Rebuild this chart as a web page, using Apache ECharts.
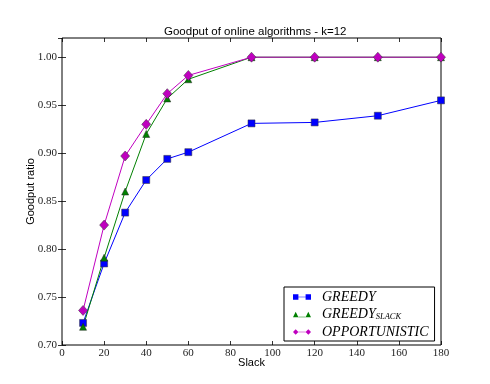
<!DOCTYPE html>
<html>
<head>
<meta charset="utf-8">
<script src="https://cdn.jsdelivr.net/npm/echarts@6/dist/echarts.min.js"></script>
<style>
  html, body { margin: 0; padding: 0; background: #fff; }
  #chart { width: 490px; height: 384px; }
</style>
</head>
<body>
<div id="chart"></div>
<script>
// slack values on the x axis
var slack = [10, 20, 30, 40, 50, 60, 90, 120, 150, 180];
// goodput ratio per algorithm
var greedy = [0.723, 0.785, 0.838, 0.872, 0.894, 0.901, 0.931, 0.932, 0.939, 0.955];
var greedySlack = [0.719, 0.791, 0.860, 0.920, 0.957, 0.977, 1.000, 1.000, 1.000, 1.000];
var opportunistic = [0.736, 0.825, 0.897, 0.930, 0.962, 0.981, 1.000, 1.000, 1.000, 1.000];

var serif = "'Liberation Serif', 'DejaVu Serif', serif";
var sans = "'Liberation Sans', 'DejaVu Sans', sans-serif";

function pairs(vals) {
    var out = [];
    for (var i = 0; i < slack.length; i++) {
        out.push([slack[i], vals[i]]);
    }
    return out;
}

// legend icons: thin line with a marker at each end, like matplotlib
var iconSquare = 'path://M0,0H6V6H0Z M6,2.7H14V3.3H6Z M14,0H20V6H14Z';
var iconTri = 'path://M0,6L3,0L6,6Z M6,5.4H14V6H6Z M14,6L17,0L20,6Z';
var iconDiamond = 'path://M3,0L6,3L3,6L0,3Z M6,2.7H14V3.3H6Z M17,0L20,3L17,6L14,3Z';

var chart = echarts.init(document.getElementById('chart'));

var axisCommon = {
    type: 'value',
    axisLine: { show: false },
    splitLine: { show: false },
    axisTick: { show: true, inside: true, length: 4, lineStyle: { color: '#000', width: 0.8 } }
};

chart.setOption({
    animation: false,
    title: {
        text: 'Goodput of online algorithms - k=12',
        left: 159,
        top: 21,
        textStyle: { fontFamily: sans, fontSize: 11.5, fontWeight: 'normal', color: '#000' }
    },
    grid: {
        left: 62,
        right: 49,
        top: 38,
        bottom: 39,
        show: true,
        borderColor: '#000',
        borderWidth: 1,
        backgroundColor: 'transparent'
    },
    legend: {
        orient: 'vertical',
        left: 284,
        top: 287,
        padding: [3, 6, 2, 9],
        itemGap: 3.5,
        itemWidth: 18,
        itemHeight: 6,
        borderColor: '#000',
        borderWidth: 1,
        borderRadius: 0,
        backgroundColor: '#fff',
        itemStyle: { borderWidth: 0 },
        data: [
            { name: 'GREEDY', icon: iconSquare },
            { name: 'GREEDY_SLACK', icon: iconTri },
            { name: 'OPPORTUNISTIC', icon: iconDiamond }
        ],
        formatter: function (name) {
            if (name === 'GREEDY_SLACK') {
                return '{a|GREEDY}{b|SLACK}';
            }
            return '{a|' + name + '}';
        },
        textStyle: {
            padding: [0, 0, 0, 6],
            rich: {
                a: { fontFamily: serif, fontStyle: 'italic', fontSize: 14, color: '#000', lineHeight: 12 },
                b: { fontFamily: serif, fontStyle: 'italic', fontSize: 8.5, color: '#000', lineHeight: 12, padding: [5, 0, 0, 0] }
            }
        }
    },
    xAxis: [
        Object.assign({}, axisCommon, {
            min: 0, max: 180, interval: 20,
            name: 'Slack',
            nameLocation: 'middle',
            nameGap: 12,
            nameMoveOverlap: false,
            nameTextStyle: { fontFamily: sans, fontSize: 11, color: '#000' },
            axisLabel: { fontFamily: serif, fontSize: 11, color: '#222', margin: 3 }
        }),
        Object.assign({}, axisCommon, {
            min: 0, max: 180, interval: 20,
            position: 'top',
            axisLabel: { show: false }
        })
    ],
    yAxis: [
        Object.assign({}, axisCommon, {
            min: 0.70, max: 1.02, interval: 0.05,
            name: 'Goodput ratio',
            nameLocation: 'middle',
            nameGap: 26,
            nameMoveOverlap: false,
            nameTextStyle: { fontFamily: sans, fontSize: 11, color: '#000' },
            axisLabel: {
                fontFamily: serif, fontSize: 11, color: '#222', margin: 5,
                showMaxLabel: false,
                formatter: function (v) { return v.toFixed(2); }
            }
        }),
        Object.assign({}, axisCommon, {
            min: 0.70, max: 1.02, interval: 0.05,
            position: 'right',
            axisLabel: { show: false }
        })
    ],
    series: [
        {
            name: 'GREEDY',
            type: 'line',
            data: pairs(greedy),
            symbol: 'rect',
            symbolSize: 7,
            lineStyle: { color: '#0000ff', width: 1 },
            itemStyle: { color: '#0000ff', borderColor: '#333', borderWidth: 0.5 }
        },
        {
            name: 'GREEDY_SLACK',
            type: 'line',
            data: pairs(greedySlack),
            symbol: 'triangle',
            symbolSize: 7,
            lineStyle: { color: '#008000', width: 1 },
            itemStyle: { color: '#008000', borderColor: '#222', borderWidth: 0.5 }
        },
        {
            name: 'OPPORTUNISTIC',
            type: 'line',
            data: pairs(opportunistic),
            symbol: 'diamond',
            symbolSize: [9, 10],
            lineStyle: { color: '#c000c0', width: 1 },
            itemStyle: { color: '#bf00bf', borderColor: '#333', borderWidth: 0.5 }
        }
    ]
});
</script>
</body>
</html>
